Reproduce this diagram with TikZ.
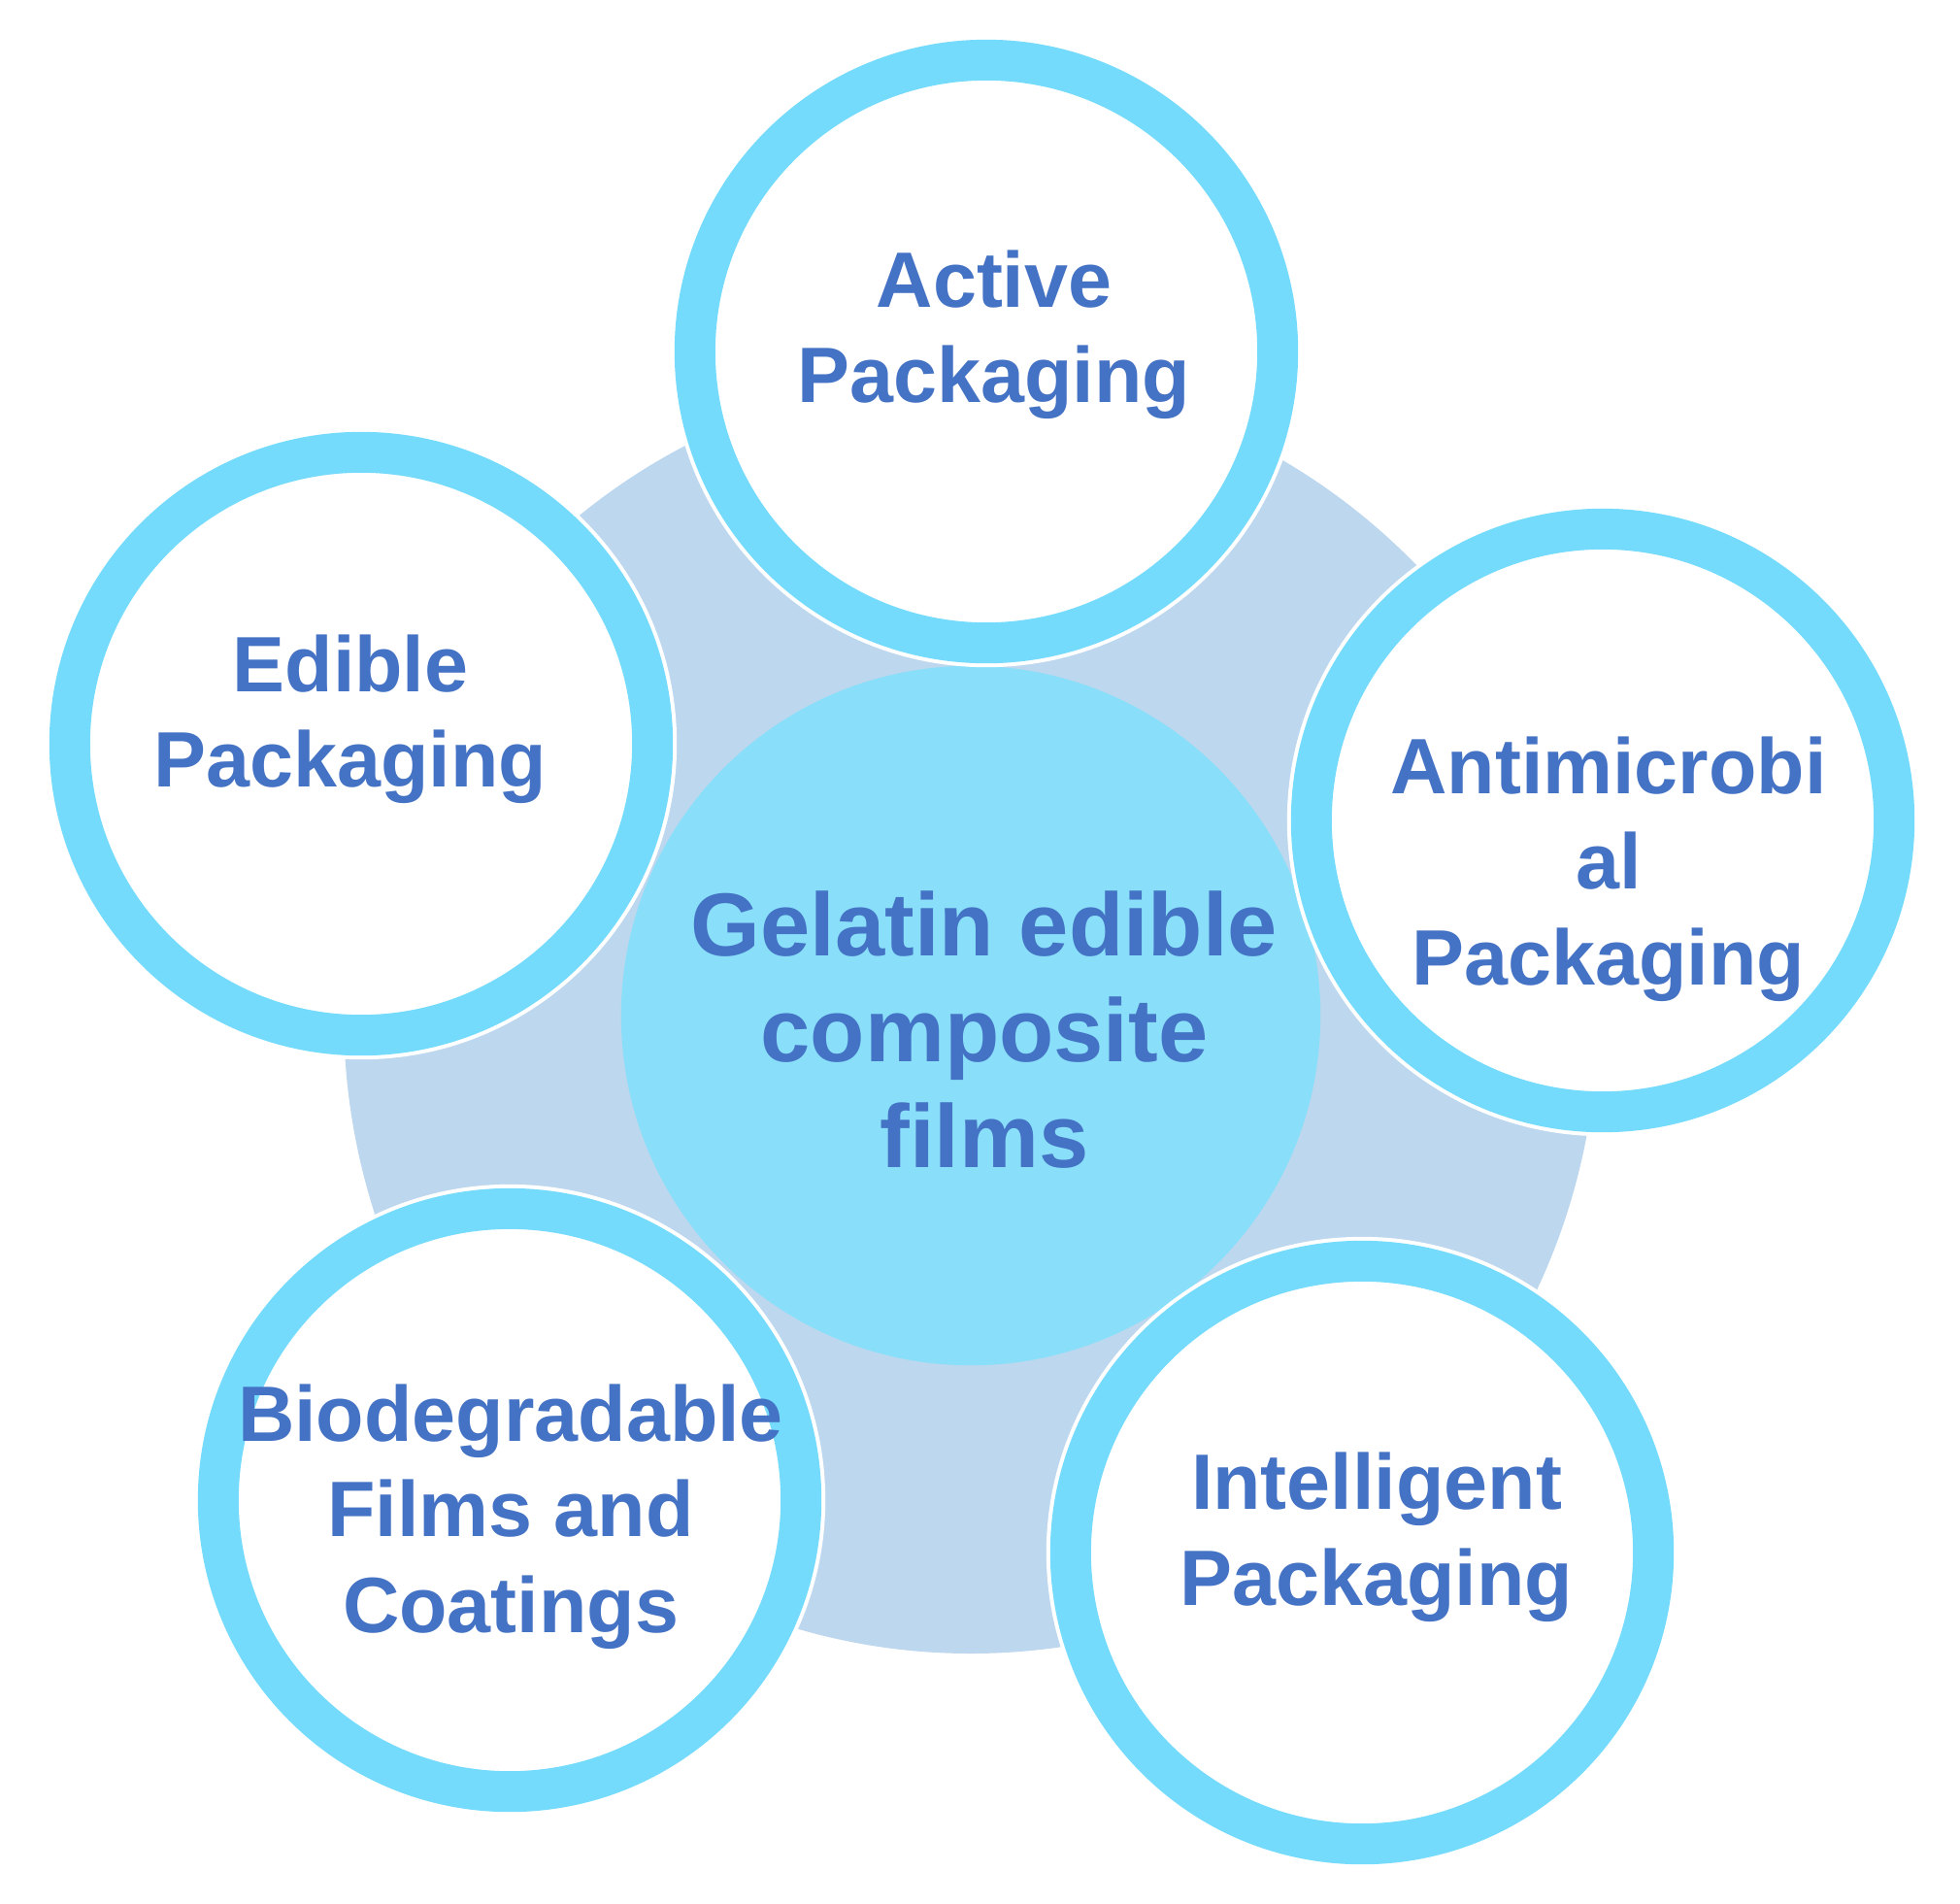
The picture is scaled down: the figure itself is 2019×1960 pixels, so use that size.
\documentclass[tikz,border=0pt]{standalone}
\usepackage{fontspec}
\setmainfont{Liberation Sans}
\definecolor{ringblue}{HTML}{74DBFC}
\definecolor{hubblue}{HTML}{89DFFA}
\definecolor{paleblue}{HTML}{BDD7EE}
\definecolor{txtblue}{HTML}{4472C4}

\begin{document}
\begin{tikzpicture}[x=0.01cm,y=-0.01cm,
  ring/.style={circle,inner sep=0pt,minimum size=6.0cm,fill=white,draw=ringblue,line width=0.42cm,
    preaction={draw=white,line width=0.50cm}},
  hubdisc/.style={circle,inner sep=0pt,minimum size=7.2cm,fill=hubblue},
  lbl/.style={text=txtblue,align=center,font=\fontsize{23}{28}\selectfont\bfseries},
  hublbl/.style={text=txtblue,align=center,font=\fontsize{26.2}{31}\selectfont\bfseries}]
  \useasboundingbox (0,0) rectangle (2019,1960);
  \fill[paleblue] (1000,1045) ellipse [x radius=646, y radius=658];
  \node[hubdisc] (hub) at (1000,1046) {};
  \node[hublbl] (hubtxt) at (1014,1061) {Gelatin edible\\composite\\films};
  % satellites
  \node[ring] (active) at (1016,362) {};
  \node[ring] (edible) at (372,766) {};
  \node[ring] (antimic) at (1651,845) {};
  \node[ring] (intel) at (1403,1599) {};
  \node[ring] (biodeg) at (525,1545) {};
  \node[lbl] (activetxt) at (1024,345) {Active\\Packaging};
  \node[lbl] (edibletxt) at (361,741) {Edible\\Packaging};
  \node[lbl] (antimictxt) at (1657,895) {Antimicrobi\\al\\Packaging};
  \node[lbl] (inteltxt) at (1418,1583) {Intelligent\\Packaging};
  \node[lbl] (biodegtxt) at (526,1562) {Biodegradable\\Films and\\Coatings};
\end{tikzpicture}
\end{document}
